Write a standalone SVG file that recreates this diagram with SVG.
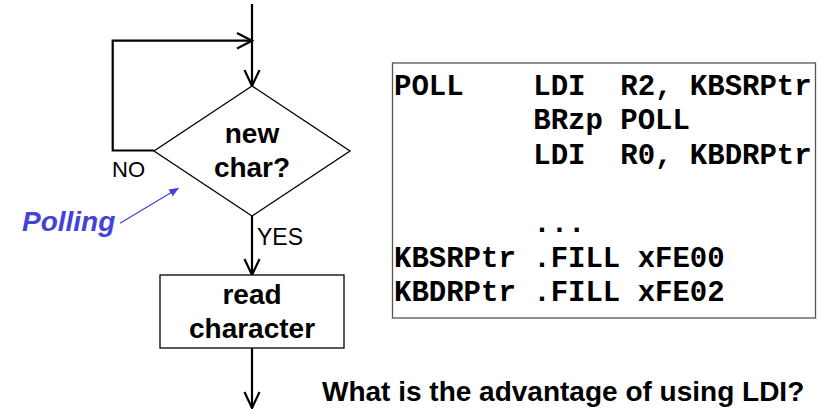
<svg xmlns="http://www.w3.org/2000/svg" width="832" height="409" viewBox="0 0 832 409">
<style>
.ln{fill:none;stroke:#000;stroke-width:2.2}
.ah{fill:none;stroke:#000;stroke-width:2.2;stroke-linejoin:miter}
.shape{fill:#fff;stroke:#000;stroke-width:1.3}
.lbl{font-family:"Liberation Sans",Arial,sans-serif;font-size:28px;font-weight:bold;fill:#000;text-anchor:middle}
.small{font-family:"Liberation Sans",Arial,sans-serif;font-size:22px;fill:#000}
.code{font-family:"Liberation Mono","Courier New",monospace;font-size:29px;font-weight:bold;fill:#000;white-space:pre}
</style>
<defs>
<marker id="blueHead" markerWidth="10" markerHeight="8" refX="9" refY="4" orient="auto" markerUnits="userSpaceOnUse">
<path d="M0,0 L10,4 L0,8 Z" fill="#4343d9"/>
</marker>
</defs>
<g id="connectors">
<path class="ln" d="M252,4 V86"/>
<path class="ah" d="M244.5,70 L252,86 L259.5,70"/>
<path class="ln" d="M154,150.5 H112.7 V40.7 H252"/>
<path class="ah" d="M237,33 L252,40.7 L237,48.4"/>
<path class="ln" d="M252,216 V275"/>
<path class="ah" d="M244.5,259 L252,275 L259.5,259"/>
<path class="ln" d="M252,348 V408"/>
<path class="ah" d="M244.5,392 L252,408 L259.5,392"/>
<text class="small" x="112" y="177">NO</text>
<text class="small" x="257" y="245" style="font-size:23px">YES</text>
</g>
<g id="decision">
<polygon class="shape" points="252,86 350,151 252,216 154,151"/>
<text class="lbl" x="252" y="143">new</text>
<text class="lbl" x="252" y="177">char?</text>
</g>
<g id="read">
<rect class="shape" x="160" y="275" width="184" height="73"/>
<text class="lbl" x="252" y="304">read</text>
<text class="lbl" x="252" y="338">character</text>
</g>
<g id="polling">
<text x="22" y="231" style="font-family:'Liberation Sans',Arial,sans-serif;font-size:28px;font-weight:bold;font-style:italic;fill:#4343d9">Polling</text>
<line x1="120" y1="223.3" x2="178.3" y2="188.3" stroke="#4343d9" stroke-width="1.2" marker-end="url(#blueHead)"/>
</g>
<g id="code">
<rect x="392.5" y="63" width="423" height="255" fill="#fff" stroke="#555" stroke-width="1.3"/>
<text class="code" x="394" y="95">POLL    LDI  R2, KBSRPtr</text>
<text class="code" x="394" y="129">        BRzp POLL</text>
<text class="code" x="394" y="164">        LDI  R0, KBDRPtr</text>
<text class="code" x="394" y="232">        ...</text>
<text class="code" x="394" y="266.5">KBSRPtr .FILL xFE00</text>
<text class="code" x="394" y="301">KBDRPtr .FILL xFE02</text>
</g>
<g id="question">
<text x="322" y="401" style="font-family:'Liberation Sans',Arial,sans-serif;font-size:28px;font-weight:bold;fill:#000">What is the advantage of using LDI?</text>
</g>
</svg>
